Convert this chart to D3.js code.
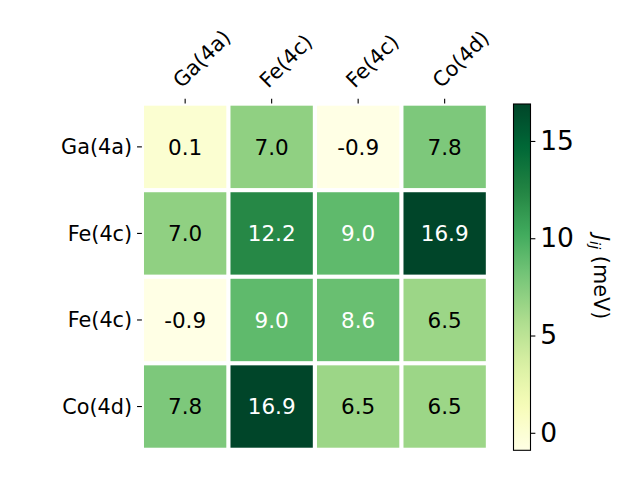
<!DOCTYPE html>
<html>
<head>
<meta charset="utf-8">
<script src="https://cdn.jsdelivr.net/npm/d3@7"></script>
<style>
  html, body { margin: 0; padding: 0; background: #fff; }
  svg { display: block; }
  text { font-family: "DejaVu Sans", sans-serif; }
</style>
</head>
<body>
<svg id="chart" width="640" height="480"></svg>
<script>
// ---- data ----
const rowLabels = ["Ga(4a)", "Fe(4c)", "Fe(4c)", "Co(4d)"];
const colLabels = ["Ga(4a)", "Fe(4c)", "Fe(4c)", "Co(4d)"];
const row0 = [0.1, 7.0, -0.9, 7.8];
const row1 = [7.0, 12.2, 9.0, 16.9];
const row2 = [-0.9, 9.0, 8.6, 6.5];
const row3 = [7.8, 16.9, 6.5, 6.5];
const values = [row0, row1, row2, row3];
const colorbarTicks = [0, 5, 10, 15];
const colorbarLabel = "(meV)";

// ---- layout ----
const svg = d3.select("#chart");
const ax = { x0: 141.9, x1: 487.9, y0: 103.6, y1: 449.8 };
const cb = { x0: 513.5, x1: 530.5, y0: 104, y1: 450.3 };
const gap = 4.17;
const tickLen = 4.86, tickPad = 4.86;
const labelFont = 20.8, annotFont = 21.5, cbFont = 26.5;

const flat = values.flat();
const vmin = d3.min(flat), vmax = d3.max(flat);

// matplotlib YlGn (linear segmented over ColorBrewer 9 colors)
const ylgn = ["#ffffe5", "#f7fcb9", "#d9f0a3", "#addd8e", "#78c679", "#41ab5d", "#238443", "#006837", "#004529"];
const cmap = d3.scaleLinear()
  .domain(d3.range(ylgn.length).map(i => vmin + (vmax - vmin) * i / (ylgn.length - 1)))
  .range(ylgn)
  .interpolate(d3.interpolateRgb)
  .clamp(true);

const x = d3.scaleBand().domain(d3.range(colLabels.length)).range([ax.x0, ax.x1]);
const y = d3.scaleBand().domain(d3.range(rowLabels.length)).range([ax.y0, ax.y1]);

const cells = [];
values.forEach((row, i) => row.forEach((v, j) => cells.push({ i, j, v })));

svg.append("g").selectAll("rect").data(cells).join("rect")
  .attr("x", d => x(d.j) + gap / 2)
  .attr("y", d => y(d.i) + gap / 2)
  .attr("width", x.bandwidth() - gap)
  .attr("height", y.bandwidth() - gap)
  .attr("fill", d => cmap(d.v));

const threshold = vmax / 2;
svg.append("g").selectAll("text").data(cells).join("text")
  .attr("x", d => x(d.j) + x.bandwidth() / 2)
  .attr("y", d => y(d.i) + y.bandwidth() / 2)
  .attr("text-anchor", "middle")
  .attr("dy", "0.36em")
  .attr("font-size", annotFont)
  .attr("fill", d => d.v > threshold ? "#ffffff" : "#000000")
  .text(d => d.v.toFixed(1));

// y axis (left)
const gy = svg.append("g");
rowLabels.forEach((lab, i) => {
  const cy = y(i) + y.bandwidth() / 2;
  gy.append("line").attr("x1", ax.x0 - tickLen).attr("x2", ax.x0)
    .attr("y1", cy).attr("y2", cy).attr("stroke", "#000").attr("stroke-width", 1.1);
  gy.append("text").attr("x", ax.x0 - tickLen - tickPad).attr("y", cy)
    .attr("dy", "0.36em").attr("text-anchor", "end").attr("font-size", labelFont).text(lab);
});

// x axis (top)
const gx = svg.append("g");
colLabels.forEach((lab, j) => {
  const cx = x(j) + x.bandwidth() / 2;
  gx.append("line").attr("x1", cx).attr("x2", cx)
    .attr("y1", ax.y0 - tickLen).attr("y2", ax.y0).attr("stroke", "#000").attr("stroke-width", 1.1);
  gx.append("text")
    .attr("transform", `translate(${cx},${ax.y0 - tickLen - tickPad - 1.5}) rotate(-45)`)
    .attr("x", 0).attr("y", -0.236 * labelFont)
    .attr("text-anchor", "start").attr("font-size", labelFont).text(lab);
});

// colorbar
const defs = svg.append("defs");
const grad = defs.append("linearGradient").attr("id", "cbgrad")
  .attr("x1", 0).attr("y1", 1).attr("x2", 0).attr("y2", 0);
d3.range(0, 1.0001, 0.02).forEach(t => {
  grad.append("stop").attr("offset", t).attr("stop-color", cmap(vmin + t * (vmax - vmin)));
});
svg.append("rect").attr("x", cb.x0).attr("y", cb.y0)
  .attr("width", cb.x1 - cb.x0).attr("height", cb.y1 - cb.y0)
  .attr("fill", "url(#cbgrad)").attr("stroke", "#000").attr("stroke-width", 1.1);

const cy = d3.scaleLinear().domain([vmin, vmax]).range([cb.y1, cb.y0]);
const cbAxis = d3.axisRight(cy).tickValues(colorbarTicks).tickSize(tickLen).tickPadding(tickPad).tickFormat(d3.format("d"));
const gcb = svg.append("g").attr("transform", `translate(${cb.x1},0)`).call(cbAxis);
gcb.select(".domain").remove();
gcb.selectAll(".tick line").attr("stroke", "#000").attr("stroke-width", 1.1);
gcb.selectAll(".tick text").attr("font-size", cbFont).attr("font-family", "DejaVu Sans").attr("fill", "#000");

// colorbar label (rotated 270)
const lab = svg.append("text")
  .attr("transform", `translate(${594},${(cb.y0 + cb.y1) / 2}) rotate(90)`)
  .attr("text-anchor", "middle").attr("font-size", labelFont);
lab.append("tspan").attr("font-style", "italic").text("J");
lab.append("tspan").attr("font-style", "italic").attr("font-size", labelFont * 0.7).attr("dy", "0.3em").text("ij");
lab.append("tspan").attr("dy", "-0.21em").text("\u00a0" + colorbarLabel);
</script>
</body>
</html>
